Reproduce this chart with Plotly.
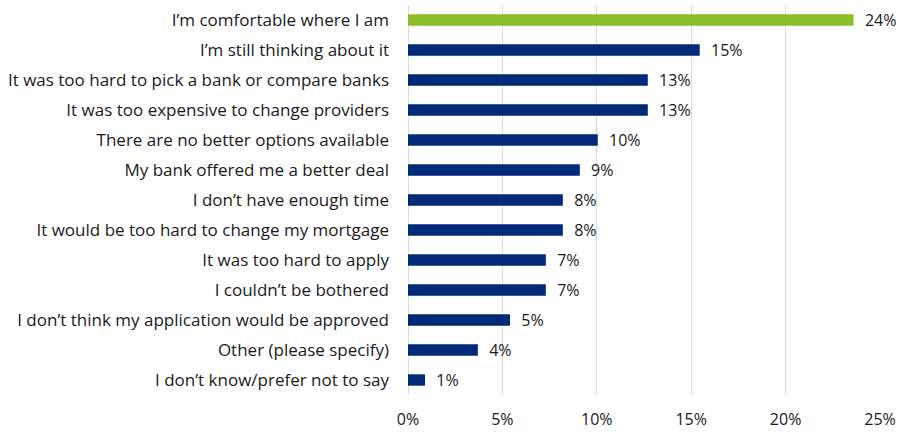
import plotly.graph_objects as go

# Reasons for not switching banks (share of respondents)
reasons = [
    "I’m comfortable where I am",
    "I’m still thinking about it",
    "It was too hard to pick a bank or compare banks",
    "It was too expensive to change providers",
    "There are no better options available",
    "My bank offered me a better deal",
    "I don’t have enough time",
    "It would be too hard to change my mortgage",
    "It was too hard to apply",
    "I couldn’t be bothered",
    "I don’t think my application would be approved",
    "Other (please specify)",
    "I don’t know/prefer not to say",
]
shares = [0.236, 0.1545, 0.127, 0.127, 0.1005, 0.091, 0.082, 0.082, 0.073, 0.073, 0.054, 0.037, 0.009]
bar_colors = ["#8CBD2A"] + ["#002A78"] * (len(reasons) - 1)

x_ticks = [0, 0.05, 0.10, 0.15, 0.20, 0.25]
x_tick_labels = ["0%", "5%", "10%", "15%", "20%", "25%"]

font_family = "'Open Sans', Lato, sans-serif"

fig = go.Figure(
    go.Bar(
        x=shares,
        y=reasons,
        orientation="h",
        marker=dict(color=bar_colors, line=dict(width=0)),
        texttemplate="  %{x:.0%}",
        textposition="outside",
        constraintext="none",
        textfont=dict(family=font_family, size=16, color="#1a1a1a"),
        cliponaxis=False,
        hoverinfo="skip",
    )
)

fig.update_layout(
    width=899,
    height=432,
    margin=dict(l=408, r=19, t=5, b=37),
    paper_bgcolor="white",
    plot_bgcolor="white",
    bargap=0.62,
    showlegend=False,
    font=dict(family=font_family, size=16, color="#1a1a1a"),
    xaxis=dict(
        range=[0, 0.25],
        tickvals=x_ticks,
        ticktext=x_tick_labels,
        automargin=False,
        showgrid=True,
        gridcolor="#d9d9d9",
        gridwidth=1,
        zeroline=True,
        zerolinecolor="#d9d9d9",
        zerolinewidth=1,
        showline=False,
        ticks="",
        ticklabelstandoff=13,
        tickfont=dict(size=16),
    ),
    yaxis=dict(
        categoryorder="array",
        categoryarray=list(reversed(reasons)),
        autorange=True,
        automargin=False,
        showgrid=False,
        zeroline=False,
        showline=False,
        ticks="",
        ticklabelstandoff=18,
        tickfont=dict(size=17),
    ),
)

fig.write_html("out.html")
